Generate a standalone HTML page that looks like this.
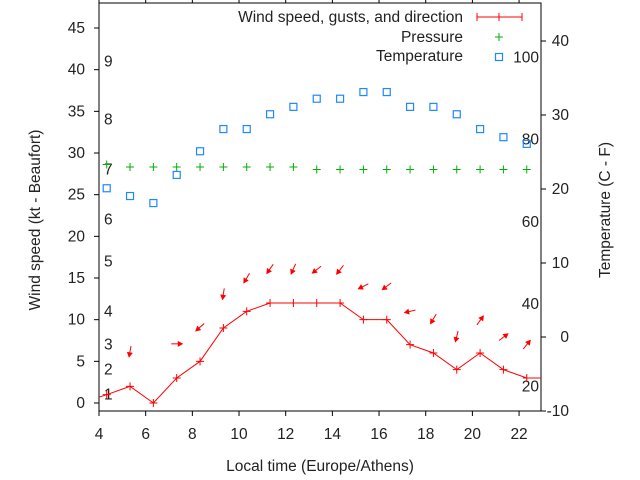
<!DOCTYPE html>
<html><head><meta charset="utf-8"><style>
html,body{margin:0;padding:0;background:#fff;}
svg{display:block;font-family:"Liberation Sans",sans-serif;}
text{font-size:15.5px;fill:#222;}
</style></head><body>
<svg id="chart" width="640" height="480" viewBox="0 0 640 480"></svg>
<script>
const times = [3.33,4.33,5.33,6.33,7.33,8.33,9.33,10.33,11.33,12.33,13.33,14.33,15.33,16.33,17.33,18.33,19.33,20.33,21.33,22.33,23.33];
const windKt = [0.1,1,2,0,3,5,9,11,12,12,12,12,10,10,7,6,4,6,4,3,3];
const tempTimes = [4.33,5.33,6.33,7.33,8.33,9.33,10.33,11.33,12.33,13.33,14.33,15.33,16.33,17.33,18.33,19.33,20.33,21.33,22.33];
const tempC = [20.1,19.05,18.1,21.9,25.1,28.1,28.1,30.1,31.1,32.2,32.2,33.1,33.1,31.1,31.1,30.1,28.1,27,26.1];
const pressureHpa = [1014,1013,1013,1013,1013,1013,1013,1013,1013,1012,1012,1012,1012,1012,1012,1012,1012,1012,1012];
const arrowTimes = [5.33,7.33,8.33,9.33,10.33,11.33,12.33,13.33,14.33,15.33,16.33,17.33,18.33,19.33,20.33,21.33,22.33];
const gustKt = [6.2,7.1,9.1,13.1,15.0,16.1,16.1,16.0,16.0,14.0,14.0,11.0,10.1,8.0,9.9,7.9,7.0];
const arrowAngle = [100,0,139,99,121,125,114,142,128,153,143,167,121,104,-54,-37,-51];
const xTicks = [4,6,8,10,12,14,16,18,20,22];
const yTicks = [0,5,10,15,20,25,30,35,40,45];
const cTicks = [-10,0,10,20,30,40];
const fTicks = [20,40,60,80,100];
const bftLabels = [1,2,3,4,5,6,7,8,9];
const bftKt = [1,4,7,11,17,22,28,34,41];

const L=99,R=541,T=3,B=411;
const X=t=>L+(t-4)*(R-L)/(22.94-4);
const Y=v=>403-v*8.333;
const YC=c=>411-(c+10)*7.4;
const YP=p=>167-(p-1013)*2.5;
const NS="http://www.w3.org/2000/svg";
const svg=document.getElementById('chart');
function el(tag,attrs,parent){const e=document.createElementNS(NS,tag);for(const k in attrs)e.setAttribute(k,attrs[k]);(parent||svg).appendChild(e);return e;}
function txt(x,y,s,anchor,parent){const e=el('text',{x:x,y:y,'text-anchor':anchor||'start'},parent);e.textContent=s;return e;}

const defs=el('defs',{});
const cp=el('clipPath',{id:'clip'},defs);
el('rect',{x:L,y:T,width:R-L,height:B-T},cp);

const frame=el('rect',{x:L,y:T,width:R-L,height:B-T,fill:'none',stroke:'#000','stroke-width':1});



const axG=el('g',{});


xTicks.forEach(t=>{
  el('line',{x1:X(t),y1:B,x2:X(t),y2:B+5,stroke:'#000'},axG);
  el('line',{x1:X(t),y1:T,x2:X(t),y2:T-5,stroke:'#000'},axG);
  txt(X(t),439,String(t),'middle',axG);
});
const ayG=el('g',{});


yTicks.forEach(v=>{
  el('line',{x1:L-5,y1:Y(v),x2:L,y2:Y(v),stroke:'#000'},ayG);
  txt(85,Y(v)+5,String(v),'end',ayG);
});
const arG=el('g',{});


cTicks.forEach(c=>{
  el('line',{x1:R,y1:YC(c),x2:R+5,y2:YC(c),stroke:'#000'},arG);
  txt(569,YC(c)+5,String(c),'end',arG);
});
const fG=el('g',{});


fTicks.forEach(f=>{txt(539,YC((f-32)*5/9)+5,String(f),'end',fG);});
const bG=el('g',{});


bftLabels.forEach((b,i)=>{txt(104,Y(bftKt[i])+5,String(b),'start',bG);});

const xt=txt(320,471,'Local time (Europe/Athens)','middle');

const yl=txt(0,0,'Wind speed (kt - Beaufort)','middle');
yl.setAttribute('transform','translate(40,220) rotate(-90)');

const yr=txt(0,0,'Temperature (C - F)','middle');
yr.setAttribute('transform','translate(610,210) rotate(-90)');


const plot=el('g',{'clip-path':'url(#clip)'});
const pG=el('g',{stroke:'#00b000','stroke-width':1},plot);

pressureHpa.forEach((p,i)=>{const x=X(tempTimes[i]),y=YP(p);
  el('path',{d:`M${x-4},${y}H${x+4}M${x},${y-4}V${y+4}`},pG);});
const tG=el('g',{stroke:'#1e88ff','stroke-width':1.2,fill:'none'},plot);

tempC.forEach((c,i)=>{el('rect',{x:X(tempTimes[i])-3.5,y:YC(c)-3.5,width:7,height:7},tG);});
const wG=el('g',{stroke:'#f00','stroke-width':1,fill:'none'},plot);

el('polyline',{points:windKt.map((v,i)=>X(times[i])+','+Y(v)).join(' ')},wG);
windKt.forEach((v,i)=>{const x=X(times[i]),y=Y(v);el('path',{d:`M${x-4},${y}H${x+4}M${x},${y-4}V${y+4}`},wG);});
const aG=el('g',{stroke:'#f00',fill:'#f00','stroke-width':1},plot);

gustKt.forEach((g,i)=>{
  const cx=X(arrowTimes[i]),cy=Y(g),a=arrowAngle[i]*Math.PI/180,len=11;
  const dx=Math.cos(a)*len/2,dy=Math.sin(a)*len/2;
  const hx=cx+dx,hy=cy+dy;
  el('line',{x1:cx-dx,y1:cy-dy,x2:hx,y2:hy},aG);
  const s=4.5,w=0.5;
  const p1=[hx-s*Math.cos(a-w),hy-s*Math.sin(a-w)],p2=[hx-s*Math.cos(a+w),hy-s*Math.sin(a+w)];
  el('polygon',{points:`${hx},${hy} ${p1} ${p2}`},aG);
});

const lg=el('g',{});

txt(463,22,'Wind speed, gusts, and direction','end',lg);
txt(463,42,'Pressure','end',lg);
txt(463,61,'Temperature','end',lg);
el('path',{d:'M477,17H522M477,13V21M522,13V21M499,13V21',stroke:'#f00',fill:'none'},lg);
el('path',{d:'M495,37H503M499,33V41',stroke:'#00b000',fill:'none'},lg);
el('rect',{x:495.5,y:53.5,width:7,height:7,stroke:'#1e88ff','stroke-width':1.2,fill:'none'},lg);
</script>
</body></html>
